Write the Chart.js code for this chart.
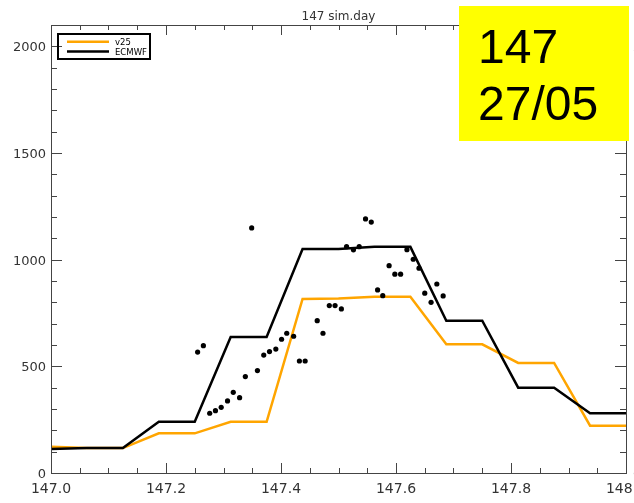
<!DOCTYPE html>
<html>
<head>
<meta charset="utf-8">
<script src="https://cdn.jsdelivr.net/npm/chart.js@4.4.1/dist/chart.umd.min.js"></script>
<style>
  html, body { margin: 0; padding: 0; background: #fff; }
  canvas { display: block; }
</style>
</head>
<body>
<canvas id="myChart" width="634" height="503"></canvas>
<script>
// model output every 1.5 h
const modelTimes = [147.0, 147.0625, 147.125, 147.1875, 147.25, 147.3125, 147.375, 147.4375, 147.5,
  147.5625, 147.625, 147.6875, 147.75, 147.8125, 147.875, 147.9375, 148.0];
const v25Values = [123, 117, 117, 186, 186, 240, 240, 816, 818, 826, 826, 603, 603, 516, 516, 222, 222];
const ecmwfValues = [112, 117, 117, 240, 240, 638, 638, 1050, 1050, 1060, 1060, 714, 714, 400, 400, 280, 280];

// observations (15 min)
const obsTimes = [147.255, 147.265, 147.276, 147.286, 147.296, 147.307, 147.317, 147.328, 147.338, 147.349,
  147.359, 147.370, 147.380, 147.391, 147.401, 147.410, 147.422, 147.432, 147.442, 147.463,
  147.473, 147.484, 147.494, 147.505, 147.514, 147.526, 147.536, 147.547, 147.557, 147.568,
  147.577, 147.588, 147.598, 147.608, 147.619, 147.630, 147.640, 147.650, 147.661, 147.671, 147.682];
const obsValues = [567, 597, 280, 292, 308, 338, 378, 353, 452, 1149,
  480, 553, 569, 581, 627, 655, 641, 525, 525, 714,
  655, 785, 785, 769, 1061, 1046, 1061, 1191, 1176, 858,
  831, 972, 932, 932, 1047, 1002, 960, 843, 800, 886, 830];

const xTickValues = [147.0, 147.2, 147.4, 147.6, 147.8, 148.0];
const xTickLabels = ['147.0', '147.2', '147.4', '147.6', '147.8', '148.0'];
const yTickValues = [0, 500, 1000, 1500, 2000];
const yTickLabels = ['0', '500', '1000', '1500', '2000'];
const chartTitle = '147 sim.day';
const stampLines = ['147', '27/05'];

const toPoints = (xs, ys) => xs.map((t, i) => ({ x: t, y: ys[i] }));

const frame = {
  id: 'frame',
  afterDraw: (chart) => {
    const { ctx, chartArea: { left, right, top, bottom }, scales: { x, y } } = chart;
    ctx.save();

    // box
    ctx.strokeStyle = '#444';
    ctx.lineWidth = 1;
    ctx.strokeRect(left + 0.5, top + 0.5, right - left, bottom - top);

    // ticks, major every 0.2 / 500, minor every 0.05 / 100
    ctx.beginPath();
    for (let i = 0; i <= 20; i++) {
      const px = Math.round(x.getPixelForValue(147 + i * 0.05)) + 0.5;
      const len = i % 4 === 0 ? 10 : 5;
      ctx.moveTo(px, bottom); ctx.lineTo(px, bottom - len);
      ctx.moveTo(px, top); ctx.lineTo(px, top + len);
    }
    for (let i = 0; i <= 21; i++) {
      const py = Math.round(y.getPixelForValue(i * 100)) + 0.5;
      const len = i % 5 === 0 ? 11 : 6;
      ctx.moveTo(left, py); ctx.lineTo(left + len, py);
      ctx.moveTo(right, py); ctx.lineTo(right - len, py);
    }
    ctx.stroke();

    // tick labels
    ctx.fillStyle = '#333';
    ctx.font = '14px "DejaVu Sans"';
    ctx.textAlign = 'center';
    ctx.textBaseline = 'alphabetic';
    xTickValues.forEach((v, i) => ctx.fillText(xTickLabels[i], x.getPixelForValue(v), bottom + 20));
    ctx.font = '13px "DejaVu Sans"';
    yTickValues.forEach((v, i) => {
      const py = y.getPixelForValue(v) + 5;
      ctx.textAlign = 'right';
      ctx.fillText(yTickLabels[i], left - 5, py);
      ctx.textAlign = 'left';
      ctx.fillText(yTickLabels[i], right + 7, py);
    });

    // title
    ctx.font = '12px "DejaVu Sans"';
    ctx.textAlign = 'center';
    ctx.fillText(chartTitle, (left + right) / 2, 20);

    // legend
    ctx.strokeStyle = '#000';
    ctx.lineWidth = 2;
    ctx.strokeRect(58, 34, 92, 25);
    ctx.font = '8.5px "DejaVu Sans"';
    ctx.textAlign = 'left';
    ctx.fillStyle = '#000';
    [chart.data.datasets[2], chart.data.datasets[1]].forEach((ds, i) => {
      const ly = 41.7 + i * 9.8;
      ctx.beginPath();
      ctx.strokeStyle = ds.borderColor;
      ctx.lineWidth = 2.5;
      ctx.moveTo(67, ly); ctx.lineTo(109, ly);
      ctx.stroke();
      ctx.fillText(ds.label, 115, ly + 3);
    });

    // yellow stamp
    ctx.fillStyle = '#ffff00';
    ctx.fillRect(459, 6, 170, 135);
    ctx.fillStyle = '#000';
    ctx.font = '48px "Liberation Sans"';
    ctx.fillText(stampLines[0], 478, 62.5);
    ctx.fillText(stampLines[1], 478, 120);

    ctx.restore();
  }
};

new Chart(document.getElementById('myChart').getContext('2d'), {
  type: 'line',
  data: {
    datasets: [
      {
        label: 'obs',
        data: toPoints(obsTimes, obsValues),
        showLine: false,
        pointRadius: 2.6,
        pointBackgroundColor: '#000',
        pointBorderWidth: 0,
        order: 0
      },
      {
        label: 'ECMWF',
        data: toPoints(modelTimes, ecmwfValues),
        borderColor: '#000',
        borderWidth: 2.5,
        pointRadius: 0,
        tension: 0,
        order: 1
      },
      {
        label: 'v25',
        data: toPoints(modelTimes, v25Values),
        borderColor: '#ffa500',
        borderWidth: 2.5,
        pointRadius: 0,
        tension: 0,
        order: 2
      }
    ]
  },
  options: {
    responsive: false,
    animation: false,
    events: [],
    layout: { padding: { left: 51, right: 8, top: 25, bottom: 30 } },
    scales: {
      x: { type: 'linear', min: 147, max: 148, display: false },
      y: { type: 'linear', min: 0, max: 2100, display: false }
    },
    plugins: {
      legend: { display: false },
      tooltip: { enabled: false }
    }
  },
  plugins: [frame]
});
</script>
</body>
</html>
